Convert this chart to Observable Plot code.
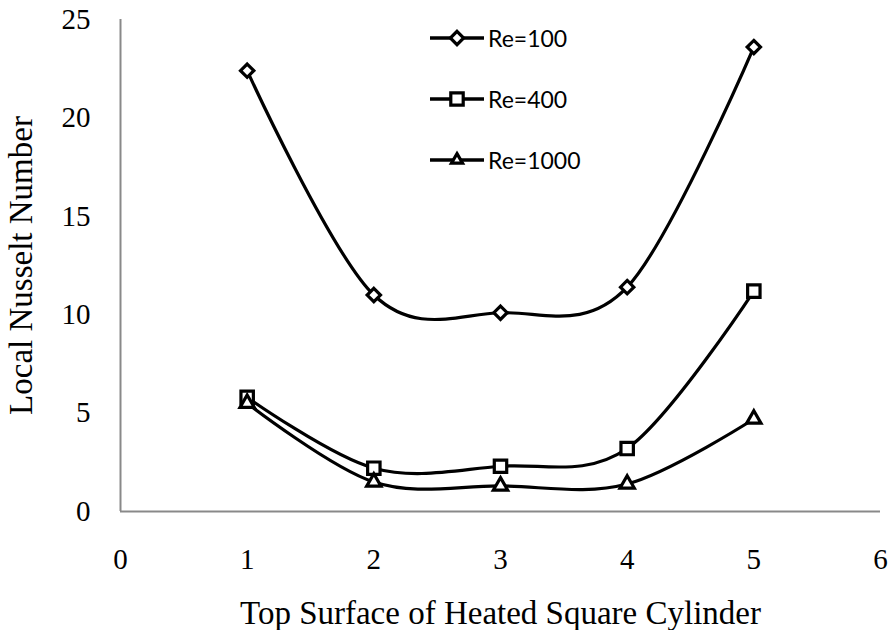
<!DOCTYPE html>
<html><head><meta charset="utf-8">
<script src="https://cdn.jsdelivr.net/npm/d3@7"></script>
<script src="https://cdn.jsdelivr.net/npm/@observablehq/plot@0.6"></script>
<style>
body{margin:0;background:#fff;}
#wrap{position:relative;width:888px;height:630px;}
#legend{position:absolute;left:428px;top:23px;font-family:Lato,"Open Sans",sans-serif;font-size:23px;color:#000;}
.row{display:flex;align-items:center;height:30px;margin-bottom:31px;}
.row svg{display:block;margin-right:2px;}
</style></head><body><div id="wrap"></div>
<script>
const positions = [1, 2, 3, 4, 5];
const seriesNames = ["Re=100", "Re=400", "Re=1000"];
const re100 = [22.4, 11.0, 10.1, 11.4, 23.6];
const re400 = [5.8, 2.2, 2.3, 3.2, 11.2];
const re1000 = [5.5, 1.5, 1.3, 1.4, 4.7];
const seriesSymbols = ["diamond2", "square", "triangle"];
const xTicks = [0, 1, 2, 3, 4, 5, 6];
const yTicks = [0, 5, 10, 15, 20, 25];
const xTitle = "Top Surface of Heated Square Cylinder";
const yTitle = "Local Nusselt Number";

const seriesValues = [re100, re400, re1000];
const rows = [];
seriesNames.forEach((s, k) => positions.forEach((p, i) => rows.push({series: s, x: p, y: seriesValues[k][i]})));

const serif = "'Liberation Serif', 'Times New Roman', serif";
const axisColor = "#898989";
const markerR = {"Re=100": 6, "Re=400": 7, "Re=1000": 5.3};

const chart = Plot.plot({
  width: 888, height: 630,
  marginLeft: 120, marginRight: 8, marginTop: 19, marginBottom: 119,
  style: {background: "#fff", color: "#000"},
  x: {domain: [0, 6]},
  y: {domain: [0, 25]},
  symbol: {domain: seriesNames, range: seriesSymbols},
  marks: [
    Plot.axisX({ticks: xTicks, tickFormat: "d", tickSize: 0, tickPadding: 37, fontSize: 29, fontFamily: serif, label: null}),
    Plot.axisX({ticks: [], tickSize: 0, fontSize: 33, fontFamily: serif, label: xTitle, labelAnchor: "center", labelArrow: "none", labelOffset: 112}),
    Plot.axisY({ticks: yTicks, tickSize: 0, tickPadding: 30, fontSize: 29, fontFamily: serif, label: null}),
    Plot.axisY({ticks: [], tickSize: 0, fontSize: 33, fontFamily: serif, label: yTitle, labelAnchor: "center", labelArrow: "none", labelOffset: 112}),
    Plot.ruleY([0], {stroke: axisColor, strokeWidth: 2}),
    Plot.ruleX([0], {stroke: axisColor, strokeWidth: 2}),
    Plot.line(rows, {x: "x", y: "y", z: "series", stroke: "#000", strokeWidth: 3.2, curve: "cardinal"}),
    ...seriesNames.map(s => Plot.dot(rows, {filter: d => d.series === s, x: "x", y: "y", symbol: "series", r: markerR[s], fill: "#fff", stroke: "#000", strokeWidth: 3.2}))
  ]
});
const wrap = document.getElementById("wrap");
wrap.appendChild(chart);

// legend
const legend = document.createElement("div");
legend.id = "legend";
const d3syms = {diamond2: d3.symbolDiamond2, square: d3.symbolSquare, triangle: d3.symbolTriangle2};
seriesNames.forEach((name, k) => {
  const row = document.createElement("div");
  row.className = "row";
  const svg = d3.create("svg").attr("width", 58).attr("height", 30);
  svg.append("line").attr("x1", 2).attr("x2", 56).attr("y1", 15).attr("y2", 15).attr("stroke", "#000").attr("stroke-width", 3.5);
  const r = markerR[name];
  svg.append("path").attr("transform", "translate(29,15)")
    .attr("d", d3.symbol(d3syms[seriesSymbols[k]], Math.PI * r * r)())
    .attr("fill", "#fff").attr("stroke", "#000").attr("stroke-width", 3.2);
  row.appendChild(svg.node());
  const span = document.createElement("span");
  span.textContent = name;
  row.appendChild(span);
  legend.appendChild(row);
});
wrap.appendChild(legend);
</script>
</body></html>
